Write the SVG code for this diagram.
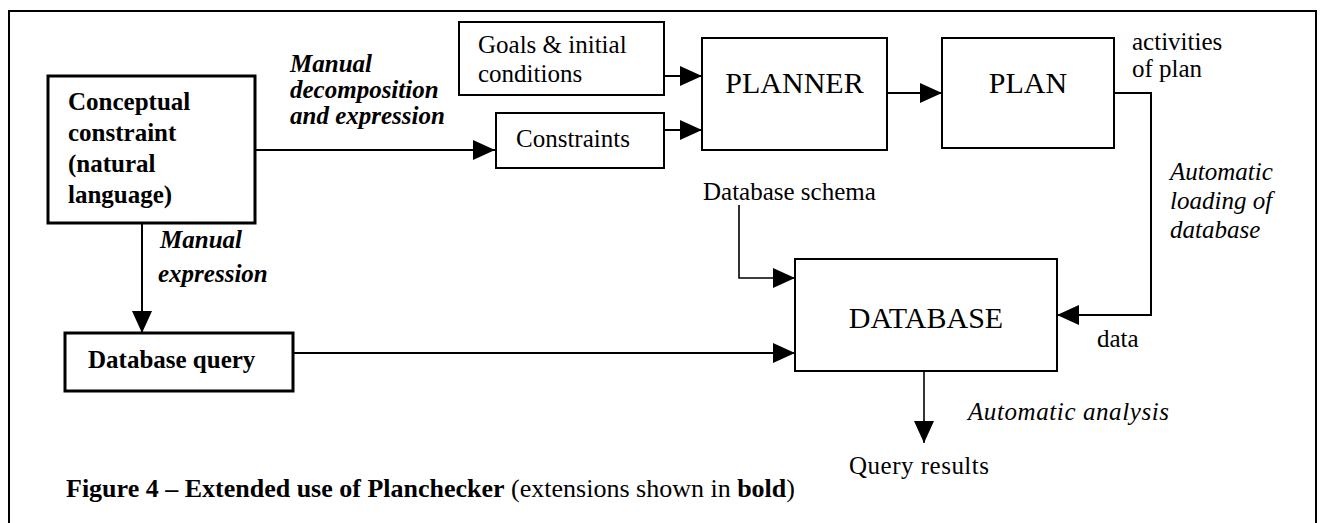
<svg xmlns="http://www.w3.org/2000/svg" width="1321" height="523" viewBox="0 0 1321 523">
<style>
text{font-family:"Liberation Serif","Times New Roman",serif;font-size:25px;fill:#000}
.b{font-weight:bold}
.i{font-style:italic}
.big{font-size:30px}
.cap{font-size:26px}
.box{fill:#fff;stroke:#000;stroke-width:2}
.bold-box{fill:#fff;stroke:#000;stroke-width:3}
.c{fill:none;stroke:#000;stroke-width:2}
.thin{stroke-width:1.6}
</style>
<defs>
<marker id="ah" markerUnits="userSpaceOnUse" markerWidth="24" markerHeight="24" refX="22" refY="10" orient="auto">
<path d="M0,0 L22,10 L0,20 z" fill="#000"/>
</marker>
</defs>
<rect width="1321" height="523" fill="#fff"/>
<path d="M9,530 V11 H1316 V530" fill="none" stroke="#000" stroke-width="2"/>

<g id="connectors">
<path class="c" d="M255,150 H495" marker-end="url(#ah)"/>
<path class="c" d="M664,76 H702" marker-end="url(#ah)"/>
<path class="c" d="M664,130 H702" marker-end="url(#ah)"/>
<path class="c" d="M887,93 H942" marker-end="url(#ah)"/>
<path class="c" d="M1114,93 H1151 V315 H1057" marker-end="url(#ah)"/>
<path class="c thin" d="M739,205 V278 H795" marker-end="url(#ah)"/>
<path class="c" d="M142,223 V333" marker-end="url(#ah)"/>
<path class="c" d="M293,353 H795" marker-end="url(#ah)"/>
<path class="c thin" d="M924,371 V443" marker-end="url(#ah)"/>
</g>

<g id="conceptual">
<rect class="bold-box" x="48" y="76" width="207" height="147"/>
<text class="b" x="68" y="110">Conceptual</text>
<text class="b" x="68" y="141">constraint</text>
<text class="b" x="68" y="172">(natural</text>
<text class="b" x="68" y="203">language)</text>
</g>

<g id="goals">
<rect class="box" x="459" y="22" width="205" height="73"/>
<text x="478" y="53">Goals &amp; initial</text>
<text x="478" y="82">conditions</text>
</g>

<g id="constraints">
<rect class="box" x="496" y="113" width="168" height="55"/>
<text x="516" y="147">Constraints</text>
</g>

<g id="planner">
<rect class="box" x="702" y="38" width="185" height="112"/>
<text class="big" x="794.5" y="93" text-anchor="middle">PLANNER</text>
</g>

<g id="plan">
<rect class="box" x="942" y="38" width="172" height="110"/>
<text class="big" x="1028" y="93" text-anchor="middle">PLAN</text>
</g>

<g id="database">
<rect class="box" x="795" y="259" width="262" height="112"/>
<text class="big" x="926" y="328" text-anchor="middle">DATABASE</text>
</g>

<g id="database-query">
<rect class="bold-box" x="65" y="333" width="228" height="58"/>
<text class="b" x="88" y="368">Database query</text>
</g>

<g id="labels">
<text class="b i" x="290" y="72">Manual</text>
<text class="b i" x="290" y="98">decomposition</text>
<text class="b i" x="290" y="124">and expression</text>
<text class="b i" x="160" y="248">Manual</text>
<text class="b i" x="158" y="282">expression</text>
<text x="703" y="200">Database schema</text>
<text x="1132" y="50">activities</text>
<text x="1132" y="77">of plan</text>
<text class="i" x="1170" y="180">Automatic</text>
<text class="i" x="1170" y="209">loading of</text>
<text class="i" x="1170" y="238">database</text>
<text x="1097" y="347">data</text>
<text class="i" x="968" y="420" textLength="201">Automatic analysis</text>
<text x="849" y="474" textLength="140">Query results</text>
<text class="cap" x="66" y="497"><tspan class="b">Figure 4 – Extended use of Planchecker</tspan> (extensions shown in <tspan class="b">bold</tspan>)</text>
</g>
</svg>
